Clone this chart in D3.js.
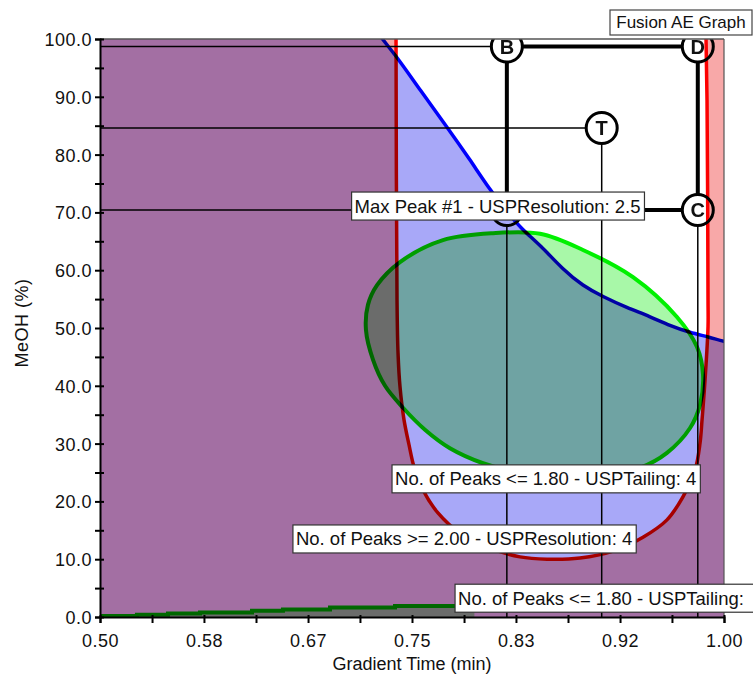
<!DOCTYPE html>
<html>
<head>
<meta charset="utf-8">
<title>Fusion AE Graph</title>
<script src="https://d3js.org/d3.v7.min.js"></script>
<style>
  body { margin: 0; background: #fff; }
  text { font-family: Arial, "Liberation Sans", sans-serif; fill: #111; }
</style>
</head>
<body>
<script>
// ---- data (gradient time in min, MeOH in %) ----
var xTickValues = [0.5, 0.5417, 0.5833, 0.625, 0.6667, 0.7083, 0.75, 0.7917, 0.8333, 0.875, 0.9167, 0.9583, 1.0];
var xTickLabelled = [0.5, 0.5833, 0.6667, 0.75, 0.8333, 0.9167, 1.0];
var yTickValues = [0, 5, 10, 15, 20, 25, 30, 35, 40, 45, 50, 55, 60, 65, 70, 75, 80, 85, 90, 95, 100];

// design space corners and target (A sits under the Max Peak label)
var pointNames = ["A", "B", "D", "C", "T"];
var pointX = [0.826, 0.826, 0.979, 0.979, 0.902];
var pointY = [70.4, 98.7, 98.7, 70.4, 84.6];

// No. of Peaks >= 2.00 - USPResolution boundary (inside = passes)
var redEdge = [[0.7372, 103], [0.7372, 100], [0.7380, 54.8], [0.7388, 45.7], [0.7404, 39.8], [0.7436, 34.1],
  [0.7476, 29.8], [0.7516, 26.0], [0.7588, 22.0], [0.7708, 18.0], [0.7885, 14.5], [0.8125, 11.9],
  [0.8365, 10.4], [0.8582, 10.0], [0.8846, 10.2], [0.9111, 11.4], [0.9351, 13.8], [0.9543, 16.8],
  [0.9671, 20.8], [0.9768, 25.4], [0.9808, 30.1], [0.9824, 34.1], [0.9848, 41.0], [0.9872, 50.2],
  [0.9872, 54.8], [0.9864, 89.4], [0.9856, 100], [0.9856, 103]];

// Max Peak #1 - USPResolution: 2.5 boundary (below = fails)
var blueEdge = [[0.720, 102], [0.7260, 100.0], [0.7380, 96.9], [0.7564, 91.2], [0.7780, 84.8], [0.7965, 79.1],
  [0.8125, 73.9], [0.8261, 70.1], [0.8389, 66.9], [0.8526, 64.4], [0.8710, 60.1], [0.8870, 57.3],
  [0.9030, 55.4], [0.9223, 53.5], [0.9407, 52.0], [0.9567, 50.4], [0.9728, 49.2], [0.9888, 48.4],
  [1.0, 47.6], [1.01, 47.4]];

// No. of Peaks <= 1.80 - USPTailing boundary (ellipse)
var greenEdge = [[0.7748, 65.2], [0.8149, 66.4], [0.8526, 66.3], [0.8870, 63.5], [0.9271, 58.8], [0.9623, 51.9],
  [0.9784, 46.7], [0.9832, 41.9], [0.9808, 36.7], [0.9728, 32.7], [0.9543, 28.4], [0.9327, 25.8],
  [0.9006, 24.2], [0.8686, 24.0], [0.8365, 24.9], [0.8069, 26.6], [0.7804, 29.2], [0.7604, 32.4],
  [0.7428, 36.2], [0.7284, 40.0], [0.7188, 44.5], [0.7131, 49.7], [0.7147, 54.0], [0.7220, 57.4],
  [0.7404, 61.4]];

// second USPTailing region along the bottom
var greenFloor = [[0.5, 0.17], [0.5296, 0.40], [0.5545, 0.62], [0.5801, 0.80], [0.6218, 1.09], [0.6466, 1.31],
  [0.6843, 1.66], [0.7364, 1.90], [0.80, 1.90]];

var labelTexts = ["Max Peak #1 - USPResolution: 2.5", "No. of Peaks <= 1.80 - USPTailing: 4",
  "No. of Peaks >= 2.00 - USPResolution: 4", "No. of Peaks <= 1.80 - USPTailing:"];
var labelX = [0.7016, 0.7340, 0.6546, 0.7845];
var labelY = [71.1, 23.9, 13.5, 3.25];

// ---- chart ----
var width = 753, height = 682;
var x = d3.scaleLinear().domain([0.5, 1.0]).range([100, 724]);
var y = d3.scaleLinear().domain([0, 100]).range([617, 39]);

var svg = d3.select('body').append('svg').attr('width', width).attr('height', height);

svg.append('defs').append('clipPath').attr('id', 'plotClip')
  .append('rect').attr('x', 100).attr('y', 39).attr('width', 624).attr('height', 578);

var plot = svg.append('g').attr('clip-path', 'url(#plotClip)').style('isolation', 'isolate');
plot.append('rect').attr('x', 100).attr('y', 39).attr('width', 624).attr('height', 578).attr('fill', '#fff');

var pts = pointNames.map(function (n, i) { return {name: n, x: pointX[i], y: pointY[i]}; });
var P = {};
pts.forEach(function (p) { P[p.name] = p; });

// thin guide lines
var thin = [
  [0.5, P.B.y, P.B.x, P.B.y], [0.5, P.T.y, P.T.x, P.T.y], [0.5, P.A.y, P.A.x, P.A.y],
  [P.A.x, P.A.y, P.A.x, 0], [P.T.x, P.T.y, P.T.x, 0], [P.C.x, P.C.y, P.C.x, 0]
];
plot.selectAll('line.thin').data(thin).enter().append('line').attr('class', 'thin')
  .attr('x1', function (d) { return x(d[0]); }).attr('y1', function (d) { return y(d[1]); })
  .attr('x2', function (d) { return x(d[2]); }).attr('y2', function (d) { return y(d[3]); })
  .attr('stroke', '#000').attr('stroke-width', 1.5);

// design space rectangle
var thick = [[P.B, P.D], [P.B, P.A], [P.D, P.C], [P.A, P.C]];
plot.selectAll('line.thick').data(thick).enter().append('line').attr('class', 'thick')
  .attr('x1', function (d) { return x(d[0].x); }).attr('y1', function (d) { return y(d[0].y); })
  .attr('x2', function (d) { return x(d[1].x); }).attr('y2', function (d) { return y(d[1].y); })
  .attr('stroke', '#000').attr('stroke-width', 4);

var marks = plot.selectAll('g.pt').data(pts).enter().append('g').attr('class', 'pt')
  .attr('transform', function (d) { return 'translate(' + x(d.x) + ',' + y(d.y) + ')'; });
marks.append('circle').attr('r', 15.5).attr('fill', '#fff').attr('stroke', '#000').attr('stroke-width', 3);
// the A letter is hidden by the label in the original, so only the others get one
marks.filter(function (d) { return d.name !== 'A'; }).append('text')
  .attr('text-anchor', 'middle').attr('dy', '0.36em')
  .style('font-size', '20px').style('font-weight', 'bold').text(function (d) { return d.name; });

var lineStraight = d3.line().x(function (d) { return x(d[0]); }).y(function (d) { return y(d[1]); });
var lineRed = d3.line().curve(d3.curveCatmullRom).x(function (d) { return x(d[0]); }).y(function (d) { return y(d[1]); });
var lineSmooth = d3.line().curve(d3.curveBasis).x(function (d) { return x(d[0]); }).y(function (d) { return y(d[1]); });
var lineLoop = d3.line().curve(d3.curveCatmullRomClosed).x(function (d) { return x(d[0]); }).y(function (d) { return y(d[1]); });

// red: outside of the U fails
var outer = [[0.49, -3], [1.01, -3], [1.01, 104], [0.49, 104]];
plot.append('path').attr('d', lineStraight(outer) + 'Z' + lineRed(redEdge) + 'Z')
  .attr('fill', '#f8a8a8').attr('fill-rule', 'evenodd').style('mix-blend-mode', 'multiply');
plot.append('path').attr('d', lineRed(redEdge)).attr('fill', 'none')
  .attr('stroke', '#ff0000').attr('stroke-width', 3.5).style('mix-blend-mode', 'multiply');

// blue: below the line fails
var blueCorners = [[1.01, -3], [0.49, -3], [0.49, 102]];
plot.append('path').attr('d', lineSmooth(blueEdge) + 'L' + blueCorners.map(function (d) {
    return x(d[0]) + ',' + y(d[1]);
  }).join('L') + 'Z')
  .attr('fill', '#a8a8f8').style('mix-blend-mode', 'multiply');
plot.append('path').attr('d', lineSmooth(blueEdge)).attr('fill', 'none')
  .attr('stroke', '#0000ff').attr('stroke-width', 3.5).style('mix-blend-mode', 'multiply');

// green: ellipse and bottom strip
plot.append('path').attr('d', lineLoop(greenEdge))
  .attr('fill', '#a8f8a8').attr('stroke', '#00f000').attr('stroke-width', 4)
  .style('mix-blend-mode', 'multiply');
var floorArea = d3.area().curve(d3.curveStepAfter)
  .x(function (d) { return x(d[0]); }).y0(y(-2)).y1(function (d) { return y(d[1]); });
var floorLine = d3.line().curve(d3.curveStepAfter)
  .x(function (d) { return x(d[0]); }).y(function (d) { return y(d[1]); });
plot.append('path').attr('d', floorArea(greenFloor)).attr('fill', '#a8f8a8').style('mix-blend-mode', 'multiply');
plot.append('path').attr('d', floorLine(greenFloor)).attr('fill', 'none')
  .attr('stroke', '#00f000').attr('stroke-width', 4).style('mix-blend-mode', 'multiply');

// frame
svg.append('line').attr('x1', 100).attr('x2', 724).attr('y1', 39).attr('y2', 39).attr('stroke', '#555').attr('stroke-width', 1.5);
svg.append('line').attr('x1', 724).attr('x2', 724).attr('y1', 39).attr('y2', 617).attr('stroke', '#555').attr('stroke-width', 1.2);

// axes
var fx = d3.format('.2f'), fy = d3.format('.1f');
var yAxis = svg.append('g').attr('transform', 'translate(100,0)')
  .call(d3.axisLeft(y).tickValues(yTickValues).tickSize(5).tickPadding(3)
    .tickFormat(function (d) { return d % 10 === 0 ? fy(d) : ''; }));
yAxis.select('.domain').attr('stroke', '#000').attr('stroke-width', 2);
yAxis.selectAll('.tick line').attr('x1', 4).attr('stroke-width', 2);
yAxis.selectAll('.tick text').style('font-size', '18px').style('letter-spacing', '0.5px')
  .attr('fill', '#111').attr('dy', '0.36em');

var xAxis = svg.append('g').attr('transform', 'translate(0,617)')
  .call(d3.axisBottom(x).tickValues(xTickValues).tickSize(6).tickPadding(11)
    .tickFormat(function (d) { return xTickLabelled.indexOf(d) >= 0 ? fx(d) : ''; }));
xAxis.select('.domain').attr('stroke', '#000').attr('stroke-width', 2);
xAxis.selectAll('.tick line').attr('y1', -2).attr('stroke-width', 2);
xAxis.selectAll('.tick text').style('font-size', '18px').style('letter-spacing', '0.5px').attr('fill', '#111');

svg.append('text').attr('x', 412).attr('y', 670).attr('text-anchor', 'middle')
  .style('font-size', '18px').text('Gradient Time (min)');
svg.append('text').attr('transform', 'translate(28,323) rotate(-90)').attr('text-anchor', 'middle')
  .style('font-size', '18px').style('letter-spacing', '0.5px').text('MeOH (%)');

// constraint labels
labelTexts.forEach(function (t, i) {
  var g = svg.append('g');
  var left = x(labelX[i]), cy = y(labelY[i]);
  var box = g.append('rect').attr('y', cy - 14).attr('height', 28)
    .attr('fill', '#fff').attr('stroke', '#333').attr('stroke-width', 1.2);
  var txt = g.append('text').attr('x', left + 3).attr('y', cy + 6.5).style('font-size', '18.5px')
    .attr('fill', '#222').text(t);
  var w = txt.node().getComputedTextLength() + 7;
  if (left + w > width - 14) w = width - left + 4;
  box.attr('x', left).attr('width', w);
});

// title box
svg.append('rect').attr('x', 610).attr('y', 10).attr('width', 142).attr('height', 25)
  .attr('fill', '#fff').attr('stroke', '#444').attr('stroke-width', 1.2);
svg.append('text').attr('x', 681).attr('y', 28).attr('text-anchor', 'middle')
  .style('font-size', '17px').text('Fusion AE Graph');
</script>
</body>
</html>
